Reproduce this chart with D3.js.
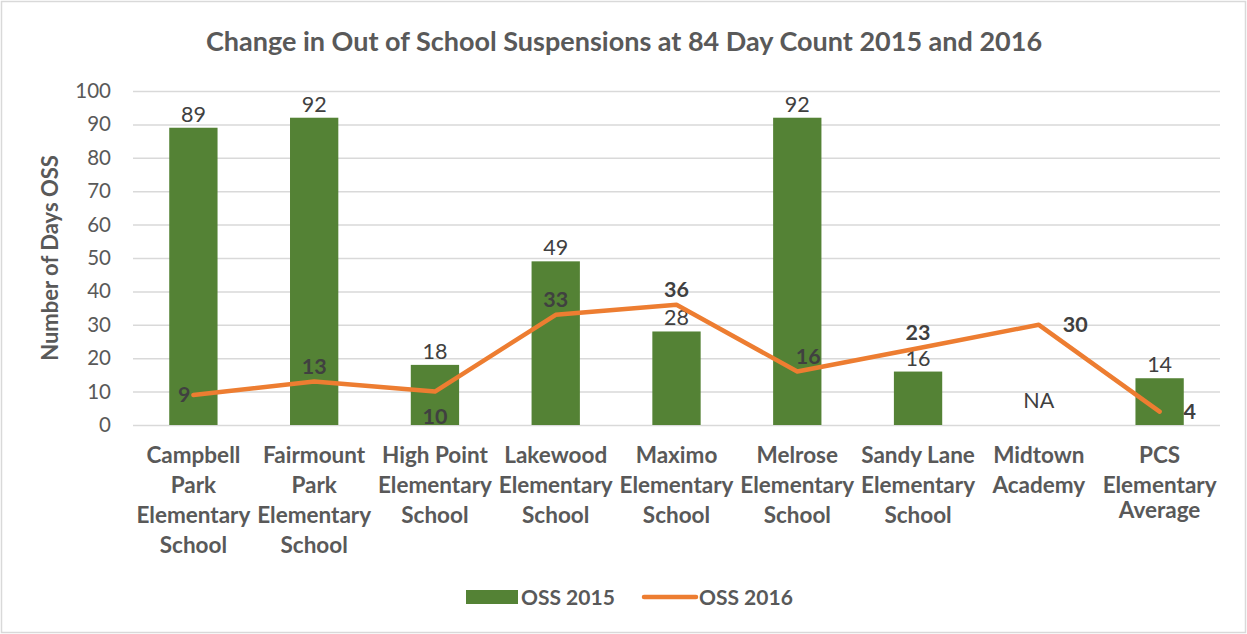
<!DOCTYPE html>
<html>
<head>
<meta charset="utf-8">
<script src="https://cdn.jsdelivr.net/npm/d3@7"></script>
<style>
  body { margin: 0; background: #fff; }
  svg { display: block; font-family: Lato, "Open Sans", sans-serif; }
</style>
</head>
<body>
<div id="chart"></div>
<script>
'use strict';

// chart data
var schools = [
  ['Campbell', 'Park', 'Elementary', 'School'],
  ['Fairmount', 'Park', 'Elementary', 'School'],
  ['High Point', 'Elementary', 'School'],
  ['Lakewood', 'Elementary', 'School'],
  ['Maximo', 'Elementary', 'School'],
  ['Melrose', 'Elementary', 'School'],
  ['Sandy Lane', 'Elementary', 'School'],
  ['Midtown', 'Academy'],
  ['PCS', 'Elementary', 'Average']
];
var oss2015 = [89, 92, 18, 49, 28, 92, 16, null, 14];
var oss2016 = [9, 13, 10, 33, 36, 16, 23, 30, 4];
var yTicks = [0, 10, 20, 30, 40, 50, 60, 70, 80, 90, 100];
var seriesNames = ['OSS 2015', 'OSS 2016'];

// where Excel put the 2016 labels
var lineLabelSide = ['left', 'above', 'below', 'above', 'above', 'aboveright', 'above', 'right', 'right'];

var width = 1247, height = 634;
var margin = {left: 133, right: 27, top: 91, bottom: 209};
var green = '#548235', orange = '#ED7D31';

var svg = d3.select('#chart').append('svg')
  .attr('width', width)
  .attr('height', height);

// outer border
svg.append('rect')
  .attr('x', 1.5).attr('y', 1.5)
  .attr('width', width - 3).attr('height', height - 3)
  .attr('fill', 'none').attr('stroke', '#d9d9d9').attr('stroke-width', 1.5);

var idx = d3.range(schools.length);

var x = d3.scaleBand()
  .domain(idx)
  .range([margin.left, width - margin.right])
  .paddingInner(0.6)
  .paddingOuter(0.3);

var xc = function(i){ return x(i) + x.bandwidth() / 2; };

var y = d3.scaleLinear()
  .domain([0, 100])
  .range([height - margin.bottom, margin.top]);

// title
svg.append('text')
  .attr('x', 624).attr('y', 51)
  .attr('text-anchor', 'middle')
  .attr('font-size', 27).attr('font-weight', 'bold')
  .attr('fill', '#595959')
  .text('Change in Out of School Suspensions at 84 Day Count 2015 and 2016');

// gridlines + y ticks
var yAxis = d3.axisLeft(y)
  .tickValues(yTicks)
  .tickSize(-(width - margin.left - margin.right))
  .tickPadding(22);

var gy = svg.append('g')
  .attr('transform', 'translate(' + margin.left + ',0)')
  .call(yAxis);
gy.select('.domain').remove();
gy.selectAll('.tick line').attr('stroke', '#d9d9d9').attr('stroke-width', 1.5);
gy.selectAll('.tick text')
  .attr('font-size', 20.5).attr('fill', '#595959')
  .attr('font-family', 'Lato, sans-serif');

// y axis title
svg.append('text')
  .attr('transform', 'translate(58,' + 258 + ') rotate(-90)')
  .attr('text-anchor', 'middle')
  .attr('font-size', 22).attr('font-weight', 'bold')
  .attr('fill', '#595959')
  .text('Number of Days OSS');

// bars
svg.append('g').selectAll('rect')
  .data(idx.filter(function(i){ return oss2015[i] != null; }))
  .enter().append('rect')
  .attr('x', function(i){ return x(i); })
  .attr('y', function(i){ return y(oss2015[i]); })
  .attr('width', x.bandwidth())
  .attr('height', function(i){ return y(0) - y(oss2015[i]); })
  .attr('fill', green);

// bar labels
svg.append('g').selectAll('text')
  .data(idx)
  .enter().append('text')
  .attr('x', xc)
  .attr('y', function(i){
    return oss2015[i] == null ? y(0) - 17 : y(oss2015[i]) - 6;
  })
  .attr('text-anchor', 'middle')
  .attr('font-size', 21.5).attr('fill', '#404040')
  .text(function(i){ return oss2015[i] == null ? 'NA' : oss2015[i]; });

// line
var line = d3.line()
  .x(function(d, i){ return xc(i); })
  .y(function(d){ return y(d); });

svg.append('path')
  .datum(oss2016)
  .attr('d', line)
  .attr('fill', 'none')
  .attr('stroke', orange)
  .attr('stroke-width', 4.5)
  .attr('stroke-linecap', 'round')
  .attr('stroke-linejoin', 'round');

// line labels
svg.append('g').selectAll('text')
  .data(idx)
  .enter().append('text')
  .attr('x', function(i){
    var s = lineLabelSide[i];
    if (s === 'left') return xc(i) - 3;
    if (s === 'right') return xc(i) + 24;
    if (s === 'aboveright') return xc(i) + 11;
    return xc(i);
  })
  .attr('y', function(i){
    var s = lineLabelSide[i];
    if (s === 'above' || s === 'aboveright') return y(oss2016[i]) - 8;
    if (s === 'below') return y(oss2016[i]) + 32;
    return y(oss2016[i]) + 7;
  })
  .attr('text-anchor', function(i){
    var s = lineLabelSide[i];
    if (s === 'left') return 'end';
    if (s === 'right') return 'start';
    return 'middle';
  })
  .attr('font-size', 21.5).attr('font-weight', 'bold').attr('fill', '#404040')
  .text(function(i){ return oss2016[i]; });

// category labels
var cats = svg.append('g').selectAll('text')
  .data(idx)
  .enter().append('text')
  .attr('x', xc)
  .attr('y', y(0) + 38)
  .attr('text-anchor', 'middle')
  .attr('font-size', 22.5).attr('font-weight', 'bold').attr('fill', '#595959');

// the last category wraps a bit tighter in the original
cats.selectAll('tspan')
  .data(function(i){
    return schools[i].map(function(t){ return {t: t, last: i === schools.length - 1}; });
  })
  .enter().append('tspan')
  .attr('x', function(){ return d3.select(this.parentNode).attr('x'); })
  .attr('dy', function(d, j){
    if (j === 0) return 0;
    return (d.last && j === 2) ? 25 : 30;
  })
  .text(function(d){ return d.t; });

// legend
var legend = svg.append('g');
legend.append('rect')
  .attr('x', 466).attr('y', 590)
  .attr('width', 52).attr('height', 14)
  .attr('fill', green);
legend.append('text')
  .attr('x', 521).attr('y', 605)
  .attr('font-size', 21).attr('font-weight', 'bold').attr('fill', '#595959')
  .text(seriesNames[0]);
legend.append('line')
  .attr('x1', 644).attr('x2', 696)
  .attr('y1', 597).attr('y2', 597)
  .attr('stroke', orange).attr('stroke-width', 4.5)
  .attr('stroke-linecap', 'round');
legend.append('text')
  .attr('x', 699).attr('y', 605)
  .attr('font-size', 21).attr('font-weight', 'bold').attr('fill', '#595959')
  .text(seriesNames[1]);
</script>
</body>
</html>
